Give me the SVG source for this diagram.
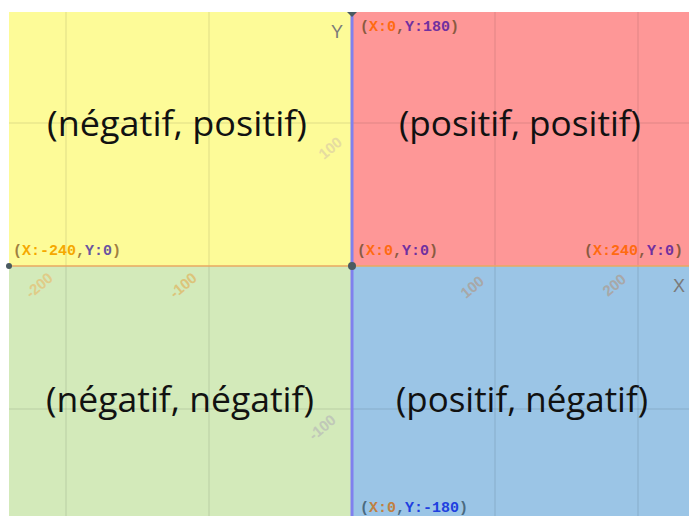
<svg xmlns="http://www.w3.org/2000/svg" width="689" height="516" viewBox="0 0 689 516">
  <style>
    .big { font-family: "Open Sans", "Noto Sans", "Liberation Sans", sans-serif; font-size: 34px; fill: #111; text-anchor: middle; }
    .coord { font-family: "Liberation Mono", "DejaVu Sans Mono", monospace; font-size: 15px; font-weight: bold; }
    .tick { font-family: "Liberation Sans", "DejaVu Sans", sans-serif; font-size: 15px; font-weight: bold; }
    .grid { stroke: #000; stroke-opacity: 0.06; stroke-width: 2; }
    .axisname { font-family: "Liberation Sans", "DejaVu Sans", sans-serif; font-size: 18px; fill: #7a7a7a; }
  </style>
  <rect x="0" y="0" width="689" height="516" fill="#ffffff"/>

  <!-- quadrants -->
  <g id="q2"><rect x="9" y="12" width="343" height="254" fill="#fdfb98"/></g>
  <g id="q1"><rect x="352" y="12" width="337" height="254" fill="#fe9797"/></g>
  <g id="q3"><rect x="9" y="266" width="343" height="250" fill="#d3eaba"/></g>
  <g id="q4"><rect x="352" y="266" width="337" height="250" fill="#9bc5e6"/></g>

  <!-- grid lines every 100 units -->
  <g id="grid">
    <line class="grid" x1="66" y1="12" x2="66" y2="516"/>
    <line class="grid" x1="209" y1="12" x2="209" y2="516"/>
    <line class="grid" x1="495" y1="12" x2="495" y2="516"/>
    <line class="grid" x1="638" y1="12" x2="638" y2="516"/>
    <line class="grid" x1="9" y1="123" x2="689" y2="123"/>
    <line class="grid" x1="9" y1="409" x2="689" y2="409"/>
  </g>

  <!-- axes -->
  <g id="axes">
    <line x1="9" y1="266" x2="689" y2="266" stroke="#e8a860" stroke-width="1.5"/>
    <line x1="352" y1="12" x2="352" y2="516" stroke="#8080ee" stroke-width="3"/>
    <circle cx="352" cy="266" r="4" fill="#4a5a60"/>
    <circle cx="9" cy="266" r="3" fill="#4a5a60"/>
    <path d="M347,12 L357,12 L352,17 Z" fill="#4a5a60"/>
  </g>

  <!-- tick labels -->
  <g id="ticks">
    <text class="tick" fill="#e0cc88" transform="translate(31,299) rotate(-40)">-200</text>
    <text class="tick" fill="#dcc47a" transform="translate(175,299) rotate(-40)">-100</text>
    <text class="tick" fill="#a8a8a8" transform="translate(466,299) rotate(-40)">100</text>
    <text class="tick" fill="#a8a8a8" transform="translate(608,297) rotate(-40)">200</text>
    <text class="tick" fill="#e6dca0" transform="translate(324,160) rotate(-40)">100</text>
    <text class="tick" fill="#c0c8b8" transform="translate(314,441) rotate(-40)">-100</text>
  </g>
  <text class="axisname" x="331" y="38">Y</text>
  <text class="axisname" x="673" y="292" fill="#a08870">X</text>

  <!-- quadrant captions -->
  <text class="big" x="177" y="136" textLength="260" lengthAdjust="spacingAndGlyphs">(négatif, positif)</text>
  <text class="big" x="520" y="136" textLength="242" lengthAdjust="spacingAndGlyphs">(positif, positif)</text>
  <text class="big" x="180" y="412" textLength="268" lengthAdjust="spacingAndGlyphs">(négatif, négatif)</text>
  <text class="big" x="522" y="412" textLength="252" lengthAdjust="spacingAndGlyphs">(positif, négatif)</text>

  <!-- corner coordinates -->
  <g id="c-top">
    <text class="coord" x="360" y="31" fill="#8a5a40">(<tspan fill="#ff6a10">X:0</tspan>,<tspan fill="#7030a0">Y:180</tspan>)</text>
  </g>
  <g id="c-left">
    <text class="coord" x="13" y="255" fill="#a08040">(<tspan fill="#f5a800">X:-240</tspan>,<tspan fill="#6a55a0">Y:0</tspan>)</text>
  </g>
  <g id="c-origin">
    <text class="coord" x="357" y="255" fill="#8a5a40">(<tspan fill="#ff6a10">X:0</tspan>,<tspan fill="#7030a0">Y:0</tspan>)</text>
  </g>
  <g id="c-right">
    <text class="coord" x="584" y="255" fill="#8a5a40">(<tspan fill="#ff6a10">X:240</tspan>,<tspan fill="#7030a0">Y:0</tspan>)</text>
  </g>
  <g id="c-bottom">
    <text class="coord" x="360" y="512" fill="#4a6a80">(<tspan fill="#c08040">X:0</tspan>,<tspan fill="#2040e0">Y:-180</tspan>)</text>
  </g>
</svg>
